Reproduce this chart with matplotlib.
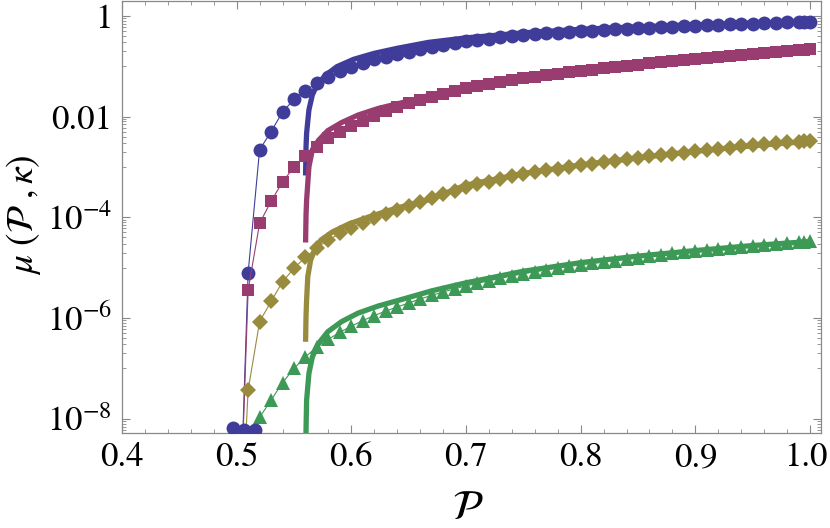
import matplotlib
matplotlib.use("Agg")
import matplotlib.pyplot as plt
import matplotlib.ticker as mticker
import matplotlib.transforms as mtrans
import numpy as np

plt.rcParams["font.family"] = ["STIXGeneral", "DejaVu Serif"]
plt.rcParams["mathtext.fontset"] = "stix"

# P grid of the numerical points: 0.50 ... 0.99 step 0.01, then 0.995 and 1.0
P = list(np.round(np.arange(0.50, 0.995, 0.01), 3)) + [0.995, 1.0]

# log10(mu) (-12 = off the bottom of the plot)
LOG_BLUE = [-12, -5.10, -2.66, -2.30, -1.91, -1.66, -1.49, -1.33, -1.21, -1.10,
            -1.01, -0.93, -0.865, -0.81, -0.76, -0.715, -0.67, -0.62, -0.58, -0.545,
            -0.51, -0.481, -0.455, -0.431, -0.409, -0.389, -0.37, -0.352, -0.336, -0.321,
            -0.307, -0.294, -0.282, -0.27, -0.259, -0.248, -0.237, -0.227, -0.217, -0.207,
            -0.198, -0.189, -0.18, -0.172, -0.164, -0.156, -0.148, -0.141, -0.134, -0.127,
            -0.124, -0.12]
LOG_MAGENTA = [-12, -5.44, -4.12, -3.68, -3.30, -3.00, -2.78, -2.60, -2.43, -2.30,
               -2.19, -2.08, -1.99, -1.90, -1.82, -1.74, -1.67, -1.61, -1.55, -1.49,
               -1.44, -1.40, -1.35, -1.31, -1.27, -1.24, -1.21, -1.18, -1.15, -1.12,
               -1.09, -1.07, -1.045, -1.02, -0.995, -0.97, -0.945, -0.92, -0.90, -0.88,
               -0.86, -0.84, -0.82, -0.80, -0.78, -0.76, -0.74, -0.72, -0.70, -0.685,
               -0.677, -0.67]
LOG_OLIVE = [-12, -7.43, -6.07, -5.67, -5.28, -5.01, -4.79, -4.60, -4.45, -4.32,
             -4.21, -4.11, -4.02, -3.94, -3.86, -3.78, -3.70, -3.62, -3.54, -3.47,
             -3.40, -3.34, -3.29, -3.24, -3.19, -3.15, -3.11, -3.07, -3.035, -3.0,
             -2.97, -2.94, -2.91, -2.88, -2.85, -2.82, -2.79, -2.765, -2.74, -2.715,
             -2.69, -2.665, -2.64, -2.615, -2.595, -2.575, -2.555, -2.535, -2.515, -2.50,
             -2.495, -2.49]
LOG_GREEN = [-12, -9.0, -7.97, -7.63, -7.28, -7.00, -6.77, -6.57, -6.42, -6.28,
             -6.16, -6.05, -5.95, -5.86, -5.78, -5.70, -5.62, -5.55, -5.48, -5.42,
             -5.36, -5.31, -5.26, -5.21, -5.16, -5.12, -5.08, -5.04, -5.00, -4.97,
             -4.94, -4.91, -4.89, -4.86, -4.83, -4.80, -4.77, -4.74, -4.71, -4.69,
             -4.66, -4.64, -4.62, -4.60, -4.58, -4.56, -4.54, -4.52, -4.50, -4.49,
             -4.485, -4.48]

# blue points sitting on the lower edge of the plot
FLOOR_P = [0.497, 0.506, 0.516]
FLOOR_LOG = [-8.19, -8.23, -8.23]

# thick analytic curves (start at P = 0.56)
FIT_BLUE_P = [0.5601, 0.5605, 0.561, 0.563, 0.566, 0.570, 0.5775, 0.5875, 0.602, 0.62,
              0.64, 0.667, 0.70, 0.75, 0.80, 0.85, 0.90, 0.95, 1.00]
FIT_BLUE_LOG = [-3.17, -2.60, -2.33, -1.87, -1.57, -1.375, -1.18, -1.01, -0.865, -0.746,
                -0.647, -0.53, -0.44, -0.34, -0.27, -0.22, -0.18, -0.145, -0.118]
FIT_MAGENTA_P = [0.5601, 0.5605, 0.561, 0.563, 0.566, 0.5715, 0.5795, 0.5915, 0.606, 0.6235,
                 0.647, 0.67, 0.70, 0.75, 0.80, 0.85, 0.90, 0.95, 1.00]
FIT_MAGENTA_LOG = [-4.50, -3.95, -3.66, -3.00, -2.66, -2.47, -2.28, -2.12, -1.97, -1.84,
                   -1.71, -1.57, -1.43, -1.23, -1.09, -0.975, -0.865, -0.76, -0.67]
FIT_OLIVE_P = [0.5601, 0.5605, 0.561, 0.562, 0.5645, 0.5685, 0.5735, 0.5835, 0.598, 0.6155,
               0.639, 0.665, 0.70, 0.75, 0.80, 0.85, 0.90, 0.95, 1.00]
FIT_OLIVE_LOG = [-6.47, -5.95, -5.64, -5.18, -4.85, -4.62, -4.45, -4.29, -4.13, -3.99,
                 -3.82, -3.67, -3.36, -3.13, -2.96, -2.82, -2.69, -2.58, -2.49]
FIT_GREEN_P = [0.5600, 0.5605, 0.561, 0.563, 0.566, 0.5715, 0.5795, 0.5915, 0.606, 0.6235,
               0.647, 0.67, 0.70, 0.75, 0.80, 0.85, 0.90, 0.95, 1.00]
FIT_GREEN_LOG = [-10.0, -8.2, -7.63, -7.10, -6.77, -6.50, -6.27, -6.07, -5.90, -5.76,
                 -5.61, -5.46, -5.30, -5.07, -4.90, -4.77, -4.66, -4.56, -4.48]

BLUE = "#3f3d99"
MAGENTA = "#993d71"
OLIVE = "#998b3d"
GREEN = "#3d9956"

fig = plt.figure(figsize=(8.30, 5.28), dpi=100)
ax = fig.add_axes([122 / 830, 1 - 432.7 / 528, 699 / 830, 431.7 / 528])
ax.set_yscale("log")

# thick curves
for px, ly, c in [(FIT_BLUE_P, FIT_BLUE_LOG, BLUE), (FIT_MAGENTA_P, FIT_MAGENTA_LOG, MAGENTA),
                  (FIT_OLIVE_P, FIT_OLIVE_LOG, OLIVE), (FIT_GREEN_P, FIT_GREEN_LOG, GREEN)]:
    ax.plot(px, 10.0 ** np.array(ly), "-", color=c, lw=3.8, solid_capstyle="butt", zorder=2)

# numerical points
series = [(LOG_BLUE, BLUE, "o", 10.0), (LOG_MAGENTA, MAGENTA, "s", 9.0),
          (LOG_OLIVE, OLIVE, "D", 8.2), (LOG_GREEN, GREEN, "^", 10.0)]
for ly, c, m, ms in series:
    ax.plot(P, 10.0 ** np.array(ly), "-", color=c, lw=0.8, marker=m, ms=ms, mew=0, zorder=3)
ax.plot(FLOOR_P, 10.0 ** np.array(FLOOR_LOG), "o", color=BLUE, ms=10.0, mew=0, zorder=3)

ax.set_xlim(0.4, 1.0096)
ax.set_ylim(10 ** -8.274, 10 ** 0.292)

# ticks
ax.xaxis.set_major_locator(mticker.MultipleLocator(0.1))
ax.xaxis.set_minor_locator(mticker.MultipleLocator(0.02))
ax.xaxis.set_major_formatter(mticker.FormatStrFormatter("%.1f"))
ymaj = [1e-8, 1e-6, 1e-4, 1e-2, 1]
ax.yaxis.set_major_locator(mticker.FixedLocator(ymaj))
ax.yaxis.set_major_formatter(mticker.FixedFormatter(
    [r"$10^{-8}$", r"$10^{-6}$", r"$10^{-4}$", "0.01", "1"]))
yminor = [10.0 ** e * k / 10 for e in range(-8, 1, 2) for k in range(1, 10)]
ax.yaxis.set_minor_locator(mticker.FixedLocator(yminor))
ax.yaxis.set_minor_formatter(mticker.NullFormatter())

ax.tick_params(which="both", direction="in", top=True, right=True, color="#888888",
               labelsize=25, labelcolor="black")
ax.tick_params(which="major", length=6, width=0.8, pad=7)
ax.tick_params(which="minor", length=3, width=0.6)
for s in ax.spines.values():
    s.set_color("#888888")
    s.set_linewidth(0.9)

ax.set_xlabel(r"$\mathcal{P}$", fontsize=30)
ax.xaxis.set_label_coords(0.495, -0.133)
ax.set_ylabel(r"$\mu\ (\mathcal{P}\ ,\kappa)$", fontsize=27)
ax.yaxis.set_label_coords(-0.113, 0.504)

# keep the last x label ("1.0") inside the canvas
fig.canvas.draw()
shift = mtrans.ScaledTranslation(-4 / 100, 0, fig.dpi_scale_trans)
for tick in ax.xaxis.get_major_ticks():
    if abs(tick.get_loc() - 1.0) < 1e-6:
        tick.label1.set_transform(tick.label1.get_transform() + shift)

fig.savefig("out.png", dpi=100)
